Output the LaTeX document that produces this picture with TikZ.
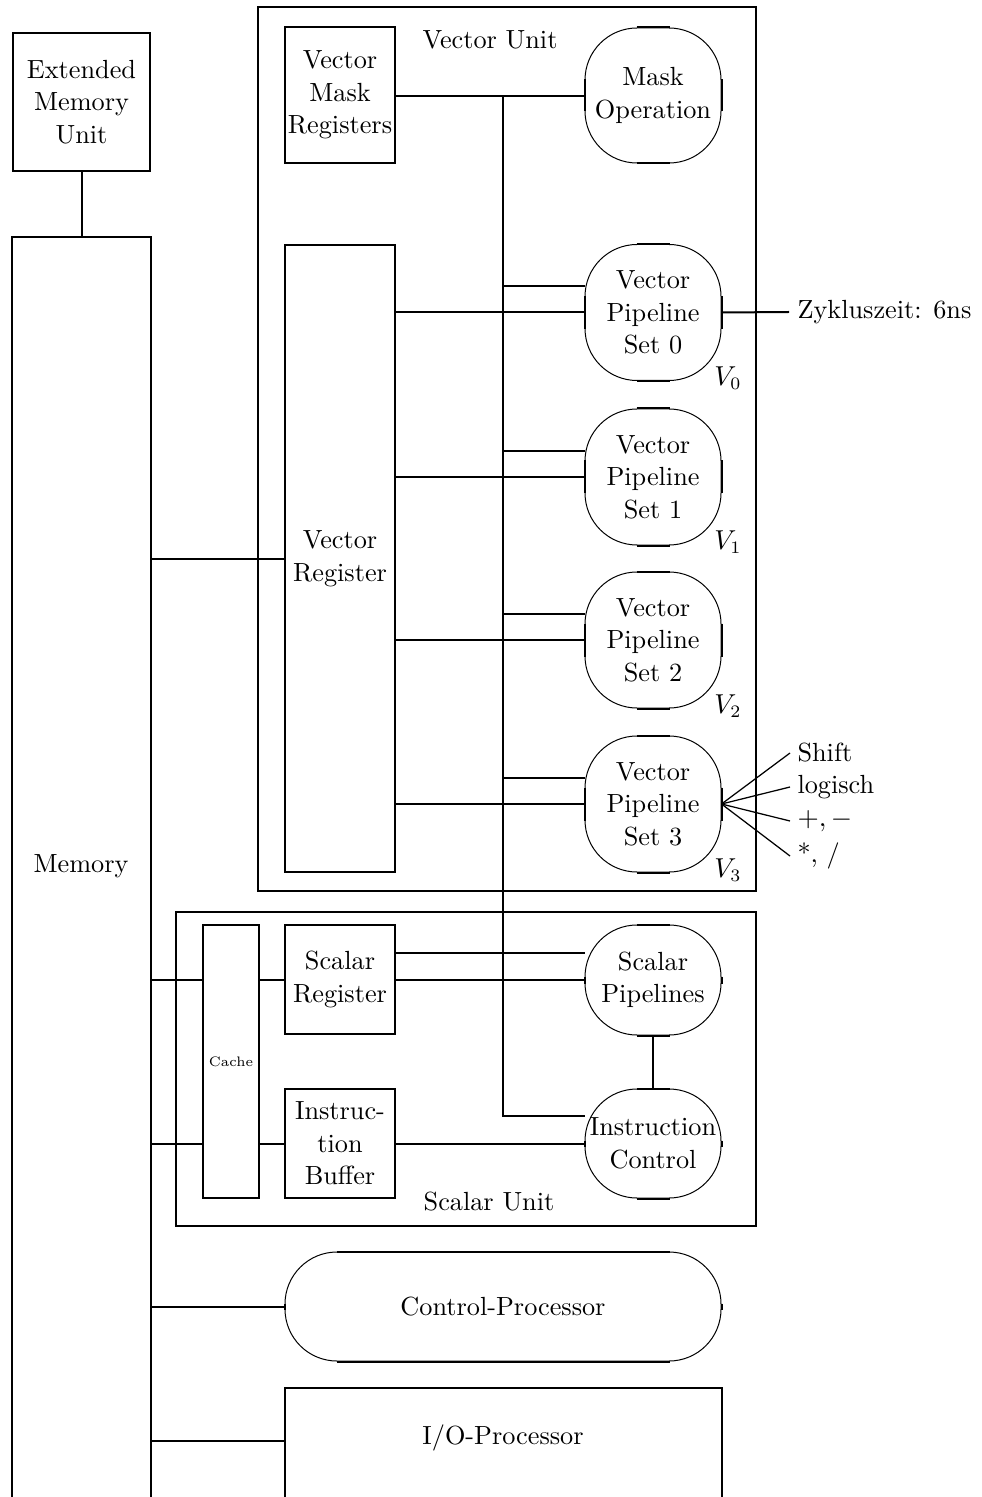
\documentclass[tikz,border=0pt]{standalone}
\usetikzlibrary{calc}
\tikzset{
  sz/.style 2 args={minimum width=#1*0.4pt, minimum height=#2*0.4pt},
  boxn/.style={draw, line width=0.8pt, inner sep=0pt, align=center},
  ovaln/.style={draw, line width=0.4pt, rounded corners=20.8pt, inner sep=0pt, align=center},
  conn/.style={line width=0.8pt},
  lbl/.style={inner sep=0pt, align=center},
  every node/.style={font=\fontsize{10.5}{13}\selectfont},
}
\newcommand\ovalstraight[1]{%
  \draw[conn] ([xshift=20.8pt]#1.north west) -- ([xshift=-20.8pt]#1.north east)
              ([xshift=20.8pt]#1.south west) -- ([xshift=-20.8pt]#1.south east)
              ([yshift=-20.8pt]#1.north west) -- ([yshift=20.8pt]#1.south west)
              ([yshift=-20.8pt]#1.north east) -- ([yshift=20.8pt]#1.south east);}
\begin{document}
\begin{tikzpicture}[x=0.4pt, y=-0.4pt]
\useasboundingbox (0,0) rectangle (981,1497);

% memory side
\node[boxn, sz={137}{138}] (emu) at (81.5,102) {Extended\\Memory\\Unit};
\node[lbl, sz={138}{1256}] (mem) at (81,866) {Memory};
\draw[conn] ([yshift=-10pt]mem.south west) -- (mem.north west) -- (mem.north east) -- ([yshift=-10pt]mem.south east);
\draw[conn] (emu.south) -- (emu.south |- mem.north);

% vector unit
\node[boxn, sz={498}{884}] (vu) at (507,449) {};
\node[lbl] (vul) at (490,40) {Vector Unit};
\node[boxn, sz={110}{136}] (vmr) at (340,95) {Vector\\Mask\\Registers};
\node[ovaln, sz={136}{135}] (mask) at (653,95.5) {Mask\\Operation};
\ovalstraight{mask}
\node[boxn, sz={110}{627}] (vr) at (340,558.5) {Vector\\Register};

\node[ovaln, sz={136}{136}] (p0) at (653,312.5) {Vector\\Pipeline\\Set 0};
\node[ovaln, sz={136}{136}] (p1) at (653,477) {Vector\\Pipeline\\Set 1};
\node[ovaln, sz={136}{136}] (p2) at (653,640) {Vector\\Pipeline\\Set 2};
\node[ovaln, sz={136}{136}] (p3) at (653,804) {Vector\\Pipeline\\Set 3};
\ovalstraight{p0}\ovalstraight{p1}\ovalstraight{p2}\ovalstraight{p3}

\node[lbl] (v0) at (728,378) {$V_0$};
\node[lbl] (v1) at (728,542) {$V_1$};
\node[lbl] (v2) at (728,706) {$V_2$};
\node[lbl] (v3) at (728,870) {$V_3$};

\node[anchor=west, inner sep=3.2pt] (zy) at (789,312) {Zykluszeit: 6ns};
\node[anchor=west, inner sep=2.8pt] (f1) at (790,753) {Shift};
\node[anchor=west, inner sep=2.8pt] (f2) at (790,787) {logisch};
\node[anchor=west, inner sep=2.8pt] (f3) at (790,821) {$+,-$};
\node[anchor=west, inner sep=2.8pt] (f4) at (790,856) {*, /};

% scalar unit
\node[boxn, sz={580}{314}] (su) at (466,1069) {};
\node[lbl] (sul) at (489,1202) {Scalar Unit};
\node[boxn, sz={56}{273}, font=\fontsize{5.5}{6}\selectfont] (cache) at (231,1061.5) {Cache};
\node[boxn, sz={110}{109}] (sr) at (340,979.5) {Scalar\\Register};
\node[boxn, sz={110}{109}] (ib) at (340,1143.5) {Instruc-\\tion\\Buffer};
\node[ovaln, sz={136}{110}] (sp) at (653,980) {Scalar\\Pipelines};
\node[ovaln, sz={136}{109}] (ic) at (653,1143.5) {Instruction\\Control};
\ovalstraight{sp}\ovalstraight{ic}

% processors
\node[ovaln, sz={436}{109}] (cp) at (503,1306.5) {Control-Processor};
\ovalstraight{cp}
\node[lbl, sz={436}{100}] (io) at (503,1438) {I/O-Processor};
\draw[conn] ([yshift=-10pt]io.south west) -- (io.north west) -- (io.north east) -- ([yshift=-10pt]io.south east);

% connectors
\coordinate (bt) at (503,96);
\coordinate (bb) at (503,1116);
\draw[conn] (vmr.east |- bt) -- (mask.west |- bt);
\draw[conn] (bt) -- (bb) -- (bb -| ic.west);
\foreach \p in {p0,p1,p2,p3}{
  \draw[conn] ($(bt |- \p.west)+(0,-26)$) -- ($(\p.west)+(0,-26)$);
  \draw[conn] (vr.east |- \p.west) -- (\p.west);
}
\draw[conn] (mem.east |- vr.west) -- (vr.west);
\draw[conn] (p0.east) -- (zy.west);
\foreach \f in {f1,f2,f3,f4}{ \draw[line width=0.5pt] (p3.east) -- (\f.west); }

\draw[conn] (mem.east |- sr.west) -- (cache.west |- sr.west);
\draw[conn] (mem.east |- ib.west) -- (cache.west |- ib.west);
\draw[conn] (cache.east |- sr.west) -- (sr.west);
\draw[conn] (cache.east |- ib.west) -- (ib.west);
\draw[conn] (sr.east) -- (sp.west |- sr.east);
\draw[conn] ($(sr.east)+(0,-27)$) -- ($(sp.west |- sr.east)+(0,-27)$);
\draw[conn] (sp.south) -- (ic.north);
\draw[conn] (ib.east) -- (ic.west |- ib.east);
\draw[conn] (mem.east |- cp.west) -- (cp.west);
\draw[conn] (mem.east |- 0,1441) -- (io.west |- 0,1441);
\end{tikzpicture}
\end{document}
